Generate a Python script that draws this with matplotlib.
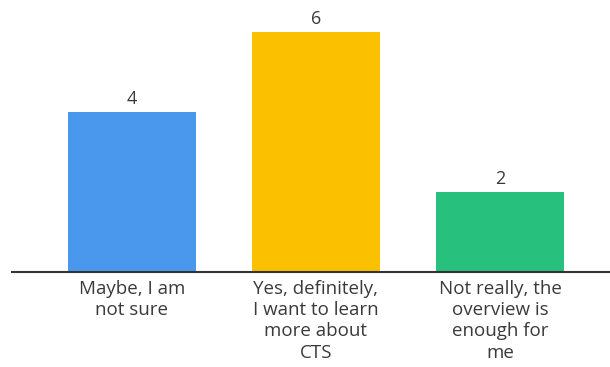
import numpy as np
import matplotlib.pyplot as plt

categories = ["Maybe, I am\nnot sure",
              "Yes, definitely,\nI want to learn\nmore about\nCTS",
              "Not really, the\noverview is\nenough for\nme"]
counts = [4, 6, 2]
colors = ["#4A98EE", "#FBC100", "#27C07D"]

plt.rcParams['font.family'] = ['Open Sans', 'DejaVu Sans']

fig = plt.figure(figsize=(6.10, 3.67), dpi=100)
ax = fig.add_axes([12 / 610, 95 / 367, 598 / 610, 272 / 367])

x = np.arange(len(counts))
bars = ax.bar(x, counts, width=0.696, color=colors)

for xi, v in zip(x, counts):
    ax.text(xi, v + 0.1, str(v), ha='center', va='bottom',
            fontsize=13, color='#3a3a3a')

ax.set_xlim(-0.652, 2.598)
ax.set_ylim(0, 6.8)
ax.set_xticks(x)
ax.set_xticklabels(categories, fontsize=13.5, color='#3a3a3a', linespacing=1.22)
ax.tick_params(axis='x', length=0, pad=6)
ax.set_yticks([])
for side in ['top', 'right', 'left']:
    ax.spines[side].set_visible(False)
ax.spines['bottom'].set_color('#333333')
ax.spines['bottom'].set_linewidth(1.5)

fig.savefig('out.png', dpi=100)
